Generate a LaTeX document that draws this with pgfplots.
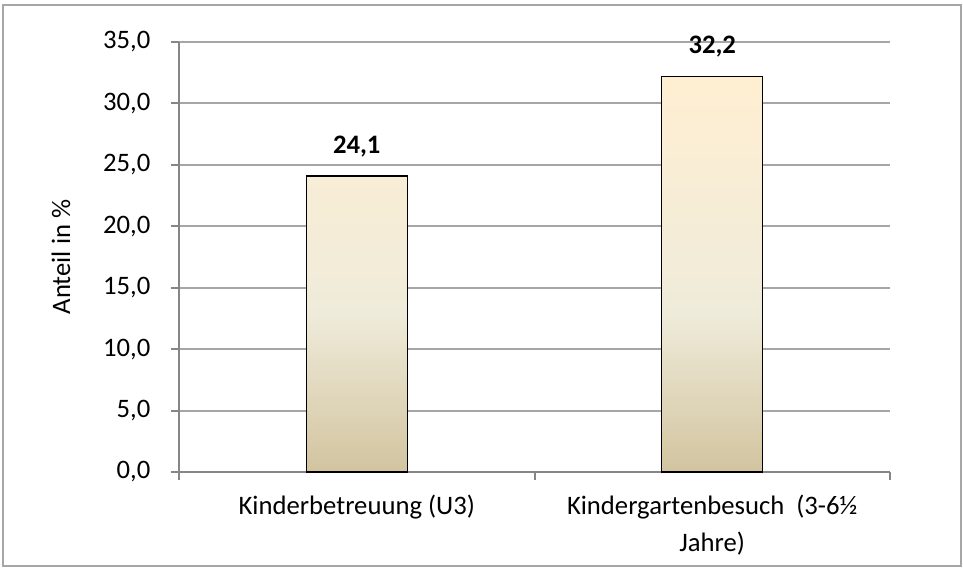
\documentclass[border=0pt]{standalone}
\usepackage{pgfplots}
\pgfplotsset{compat=1.18}
\usepackage{fontspec}
\setmainfont{Carlito}
\definecolor{bartop}{RGB}{255,239,210}
\definecolor{barmid}{RGB}{239,235,218}
\definecolor{barbot}{RGB}{210,196,159}
\definecolor{axisgray}{RGB}{134,134,134}
\definecolor{gridgray}{RGB}{166,166,166}
\pgfdeclareverticalshading{barshade}{100bp}{color(0bp)=(barbot); color(25bp)=(barbot); color(45bp)=(barmid); color(75bp)=(bartop); color(100bp)=(bartop)}

\begin{document}
\begin{tikzpicture}[font=\fontsize{20}{25}\selectfont]
\useasboundingbox (-134.25pt,-72pt) rectangle (588pt,354pt);
\draw[gridgray, line width=1.5pt] (-132pt,-70.5pt) rectangle (586.5pt,350.25pt);
\begin{axis}[
  scale only axis, width=533.25pt, height=322.5pt,
  xmin=-0.5, xmax=1.5, ymin=0, ymax=35,
  ytick={0,5,...,35},
  xtick={-0.5,0.5,1.5}, xticklabels={},
  extra x ticks={0,1},
  extra x tick labels={{Kinderbetreuung (U3)},{Kindergartenbesuch\ \ (3-6½\\Jahre)}},
  extra x tick style={major tick length=0pt, grid=none,
    xticklabel style={align=center, yshift=-14pt, font=\fontsize{20}{27.5}\selectfont}},
  axis x line*=bottom, axis y line*=left,
  axis line style={axisgray, line width=1.5pt, -},
  tick align=outside, major tick length=6pt,
  tick style={axisgray, line width=1.5pt},
  ymajorgrids, grid style={gridgray, line width=1.5pt},
  tick label style={font=\fontsize{20}{25}\selectfont},
  yticklabel style={xshift=-12pt, /pgf/number format/.cd, fixed, fixed zerofill, precision=1, use comma, assume math mode=true},
  ylabel={Anteil in \%},
  ylabel style={at={(axis description cs:0,0.5)}, anchor=center, yshift=88.5pt, font=\fontsize{20}{25}\selectfont},
  nodes near coords={\pgfmathprintnumber[fixed, fixed zerofill, precision=1, use comma, assume math mode=true]{\pgfplotspointmeta}},
  every node near coord/.append style={font=\fontsize{20}{25}\selectfont\bfseries, anchor=base, inner sep=0pt, yshift=17pt},
]
% data: Anteil in %
\addplot[ybar, bar width=0.284, draw=black, line width=0.9pt, shading=barshade] coordinates {(0,24.1) (1,32.2)};
\end{axis}
\end{tikzpicture}
\end{document}
